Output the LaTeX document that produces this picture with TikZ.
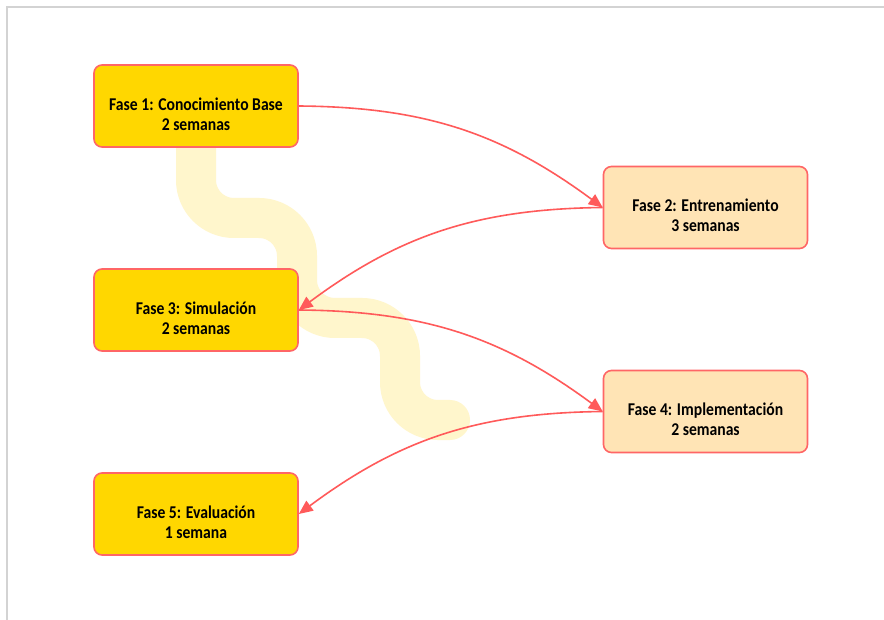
\documentclass[tikz,border=0pt]{standalone}
\usepackage{fontspec}
\setmainfont{Carlito}[FakeStretch=0.87]
\usetikzlibrary{arrows.meta}
\definecolor{gold}{HTML}{FFD700}
\definecolor{moc}{HTML}{FFE4B5}
\definecolor{edgered}{HTML}{FF6666}
\definecolor{arrred}{HTML}{FF5A5A}
\definecolor{wave}{HTML}{FFF6CC}
\definecolor{frame}{HTML}{D3D3D3}
\tikzset{
  phase/.style={draw=edgered, line width=1.6pt, rounded corners=8pt, minimum width=204pt, minimum height=82pt, inner sep=0pt},
  ptext/.style={align=center, font=\fontsize{18}{20}\selectfont\bfseries, inner sep=0pt, yshift=-8pt},
  gphase/.style={phase, fill=gold},
  mphase/.style={phase, fill=moc},
  flow/.style={draw=arrred, line width=1.6pt, -{Triangle[length=14pt,width=12pt]}},
}
\begin{document}
\begin{tikzpicture}[x=1pt,y=-1pt]
\useasboundingbox (0,0) rectangle (884,620);
\fill[white] (0,0) rectangle (884,620);
\draw[frame, line width=2pt] (7,620) -- (7,7) -- (884,7);
% wave band
\draw[wave, line width=40pt, line cap=round, rounded corners=38pt]
  (196,110) -- (196,218) -- (297,218) -- (297,318) -- (400,318) -- (400,420) -- (450,420);
\node[gphase, label={[ptext]center:Fase 1: Conocimiento Base\\2 semanas}] (f1) at (196,106) {};
\node[mphase, label={[ptext]center:Fase 2: Entrenamiento\\3 semanas}] (f2) at (705.5,207.5) {};
\node[gphase, label={[ptext]center:Fase 3: Simulación\\2 semanas}] (f3) at (196,310) {};
\node[mphase, label={[ptext]center:Fase 4: Implementación\\2 semanas}] (f4) at (705.5,411.5) {};
\node[gphase, label={[ptext]center:Fase 5: Evaluación\\1 semana}] (f5) at (196,514) {};
\draw[flow] (f1.east) to[bend left=18] (f2.west);
\draw[flow] (f2.west) to[bend right=18] (f3.east);
\draw[flow] (f3.east) to[bend left=18] (f4.west);
\draw[flow] (f4.west) to[bend right=18] (f5.east);
\end{tikzpicture}
\end{document}
